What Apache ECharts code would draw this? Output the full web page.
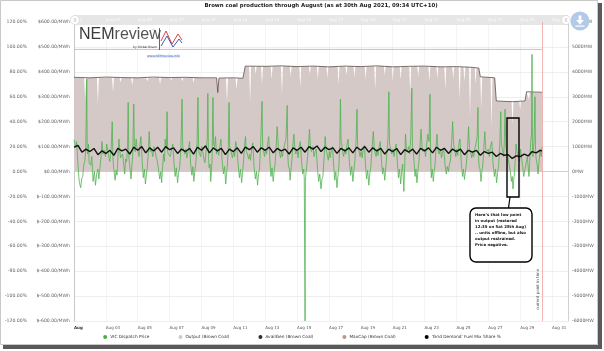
<!DOCTYPE html>
<html>
<head>
<meta charset="utf-8">
<script src="https://cdn.jsdelivr.net/npm/echarts@6/dist/echarts.min.js"></script>
<style>
  html, body { margin: 0; padding: 0; background: #fff; }
  #chart { width: 604px; height: 351px; }
</style>
</head>
<body>
<div id="chart"></div>
<script>
// x = days since 1 Aug 2021 00:00
const dayTicks = [0, 2, 4, 6, 8, 10, 12, 14, 16, 18, 20, 22, 24, 26, 28, 30];
const nowDay = 29.38; // "current point in time"

// VIC dispatch price, $/MWh
const vicPrice = [
  [0.00,128],[0.06,110],[0.10,95],[0.16,120],[0.22,60],[0.30,-20],[0.34,-45],[0.42,-65],[0.48,-30],[0.55,-20],[0.62,30],[0.68,40],[0.74,90],[0.80,370],[0.83,80],[0.86,70],[0.91,110],[0.95,35],
  [1.05,25],[1.12,60],[1.20,-40],[1.28,0],[1.35,-55],[1.42,-10],[1.50,10],[1.56,-30],[1.62,-30],[1.70,60],[1.75,120],[1.82,70],[1.88,85],[1.98,60],
  [2.05,110],[2.10,95],[2.18,60],[2.25,40],[2.33,90],[2.40,200],[2.44,60],[2.48,20],[2.58,-35],[2.64,5],[2.70,-15],[2.76,60],[2.82,130],[2.88,80],[2.92,55],
  [3.05,70],[3.12,30],[3.18,-10],[3.24,50],[3.30,40],[3.36,90],[3.40,277],[3.44,60],[3.48,35],[3.58,-30],[3.63,20],[3.68,60],[3.75,270],[3.79,90],[3.84,80],[3.90,130],[3.95,100],
  [4.02,80],[4.08,60],[4.14,110],[4.20,140],[4.28,40],[4.35,-25],[4.42,10],[4.48,-50],[4.55,-10],[4.60,20],[4.66,70],[4.72,160],[4.78,80],[4.85,90],[4.95,60],
  [5.02,100],[5.08,85],[5.15,60],[5.22,45],[5.30,10],[5.38,-30],[5.45,0],[5.50,-45],[5.56,20],[5.62,70],[5.68,40],[5.72,130],[5.80,90],[5.84,240],[5.88,80],[5.92,70],
  [6.05,60],[6.12,90],[6.20,110],[6.28,30],[6.35,-20],[6.42,15],[6.50,-45],[6.56,-5],[6.62,10],[6.70,80],[6.78,290],[6.82,100],[6.86,95],[6.96,70],
  [7.02,90],[7.08,55],[7.16,80],[7.25,120],[7.32,30],[7.40,-15],[7.46,20],[7.52,-40],[7.58,0],[7.64,30],[7.72,110],[7.78,297],[7.82,90],[7.86,75],[7.95,60],
  [8.02,100],[8.08,80],[8.15,50],[8.22,35],[8.30,90],[8.36,130],[8.40,313],[8.44,60],[8.48,15],[8.54,30],[8.58,-40],[8.62,0],[8.66,40],[8.72,297],[8.76,110],[8.82,100],[8.88,140],[8.94,70],
  [9.02,90],[9.08,65],[9.15,100],[9.22,130],[9.30,40],[9.38,-10],[9.45,20],[9.52,-50],[9.57,-10],[9.62,20],[9.68,90],[9.73,277],[9.77,100],[9.82,90],[9.94,55],
  [10.02,80],[10.08,60],[10.15,120],[10.22,95],[10.30,30],[10.38,-25],[10.45,10],[10.52,-45],[10.58,0],[10.64,40],[10.70,100],[10.76,140],[10.82,80],[10.88,70],[10.96,50],
  [11.02,70],[11.08,45],[11.15,90],[11.22,115],[11.30,20],[11.38,-30],[11.45,0],[11.52,-55],[11.58,-10],[11.64,10],[11.72,120],[11.80,281],[11.84,100],[11.88,95],[11.96,60],
  [12.02,90],[12.08,70],[12.15,110],[12.22,140],[12.30,40],[12.36,-20],[12.43,15],[12.50,-40],[12.56,0],[12.62,30],[12.68,90],[12.75,180],[12.82,100],[12.88,80],[12.96,55],
  [13.02,80],[13.08,60],[13.15,90],[13.22,110],[13.30,130],[13.38,265],[13.42,60],[13.46,20],[13.52,10],[13.56,-35],[13.62,10],[13.68,50],[13.74,110],[13.80,150],[13.86,90],[13.92,70],
  [14.00,90],[14.06,55],[14.13,100],[14.20,120],[14.28,40],[14.35,-10],[14.42,10],[14.45,-30],[14.50,-600],[14.52,-40],[14.54,-20],[14.60,20],[14.66,60],[14.72,110],[14.78,170],[14.84,90],[14.90,80],
  [15.00,100],[15.06,60],[15.13,80],[15.20,90],[15.28,10],[15.35,-40],[15.42,-10],[15.50,-70],[15.56,-30],[15.62,-20],[15.70,60],[15.76,140],[15.82,90],[15.88,70],[15.96,45],
  [16.02,80],[16.08,55],[16.15,90],[16.22,100],[16.30,20],[16.36,-35],[16.43,0],[16.50,-65],[16.56,-20],[16.62,20],[16.68,110],[16.72,290],[16.76,120],[16.80,110],[16.86,80],[16.92,60],
  [17.00,90],[17.06,70],[17.13,110],[17.20,130],[17.28,40],[17.36,-15],[17.43,20],[17.50,-40],[17.56,0],[17.62,40],[17.70,120],[17.76,250],[17.80,100],[17.86,90],[17.95,60],
  [18.02,80],[18.08,55],[18.15,90],[18.22,105],[18.30,20],[18.36,-30],[18.43,5],[18.50,-55],[18.56,-10],[18.62,15],[18.70,90],[18.78,160],[18.84,100],[18.88,80],[18.96,60],
  [19.02,90],[19.08,65],[19.15,100],[19.22,120],[19.30,40],[19.36,-10],[19.43,15],[19.50,-35],[19.56,10],[19.62,60],[19.70,130],[19.76,320],[19.80,110],[19.84,100],[19.94,70],
  [20.02,90],[20.08,60],[20.15,90],[20.22,110],[20.30,30],[20.36,-25],[20.43,10],[20.50,-50],[20.56,0],[20.62,30],[20.70,-80],[20.76,40],[20.80,150],[20.86,90],[20.92,80],
  [21.00,100],[21.06,70],[21.13,130],[21.20,335],[21.24,100],[21.28,90],[21.34,40],[21.40,-20],[21.46,10],[21.52,-45],[21.58,0],[21.64,40],[21.72,110],[21.78,170],[21.84,100],[21.90,80],
  [22.00,90],[22.06,60],[22.13,110],[22.20,150],[22.28,120],[22.34,310],[22.38,60],[22.42,-25],[22.48,10],[22.55,-40],[22.60,0],[22.66,30],[22.72,100],[22.78,150],[22.84,90],[22.90,70],
  [23.00,90],[23.06,55],[23.13,80],[23.20,95],[23.28,30],[23.36,-10],[23.43,20],[23.50,0],[23.56,30],[23.62,40],[23.70,120],[23.76,200],[23.82,110],[23.88,90],[23.96,60],
  [24.02,90],[24.08,65],[24.15,110],[24.22,130],[24.30,40],[24.38,-20],[24.44,10],[24.50,-32],[24.56,0],[24.62,30],[24.70,100],[24.76,180],[24.82,90],[24.88,80],[24.96,55],
  [25.02,80],[25.08,60],[25.15,90],[25.22,110],[25.30,140],[25.35,257],[25.39,60],[25.42,20],[25.48,10],[25.54,-40],[25.60,0],[25.66,30],[25.72,100],[25.78,160],[25.84,90],[25.90,80],
  [26.00,90],[26.06,60],[26.13,100],[26.22,120],[26.30,30],[26.38,-20],[26.45,10],[26.52,-45],[26.58,-5],[26.64,20],[26.72,110],[26.78,240],[26.82,110],[26.88,90],[26.96,60],
  [27.00,110],[27.05,250],[27.10,100],[27.15,80],[27.22,60],[27.30,30],[27.38,0],[27.45,-40],[27.50,-20],[27.55,-70],[27.58,-40],[27.62,-20],[27.68,40],[27.74,110],[27.80,80],[27.86,60],[27.96,40],
  [28.02,90],[28.08,60],[28.15,20],[28.22,-20],[28.30,10],[28.36,30],[28.45,60],[28.55,-20],[28.60,40],[28.66,120],[28.71,150],[28.74,470],[28.77,100],[28.80,60],[28.87,120],[28.93,300],[28.96,90],[29.00,50],
  [29.06,30],[29.12,-10],[29.18,40],[29.25,90],[29.32,60],[29.38,100]
];

// Output (Brown Coal), MW
const outputMW = [
  [0,3760],[0.64,3750],[0.70,2890],[0.76,3750],[1.44,3750],[1.50,2690],[1.56,3750],[2.39,3760],[2.45,3170],[2.51,3760],
  [2.86,3750],[2.92,3570],[2.98,3750],[3.59,3750],[3.65,3450],[3.71,3750],[4.54,3745],[4.60,3610],[4.66,3745],
  [5.34,3770],[5.40,3480],[5.46,3770],[6.04,3750],[6.10,3650],[6.16,3750],[6.74,3755],[6.80,3610],[6.86,3755],
  [7.44,3765],[7.50,3550],[7.56,3765],[8.14,3745],[8.20,3690],[8.26,3745],
  [8.95,3745],[9.02,3150],[9.10,3735],[9.54,3740],[9.60,2770],[9.66,3740],[10.14,3745],[10.20,3290],[10.26,3745],
  [10.60,3725],[10.75,4210],[10.99,4210],[11.05,2770],[11.11,4210],[11.34,4210],[11.40,3900],[11.46,4210],
  [11.74,4210],[11.80,3490],[11.86,4210],[12.34,4215],[12.40,3700],[12.46,4215],[12.99,4225],[13.05,3090],[13.11,4225],
  [13.54,4230],[13.60,3800],[13.66,4230],[14.14,4205],[14.20,3370],[14.26,4205],[14.74,4215],[14.80,3900],[14.86,4215],
  [15.24,4215],[15.30,3690],[15.36,4215],[15.84,4205],[15.90,3750],[15.96,4205],[16.54,4200],[16.60,3490],[16.66,4200],
  [17.04,4215],[17.10,3850],[17.16,4215],[17.54,4220],[17.60,3780],[17.66,4220],[18.24,4205],[18.30,3700],[18.36,4205],
  [18.84,4225],[18.90,3290],[18.96,4225],[19.44,4230],[19.50,3850],[19.56,4230],[19.94,4205],[20.00,3600],[20.06,4200],
  [20.44,4195],[20.50,3690],[20.56,4195],[21.04,4205],[21.10,3090],[21.16,4205],[21.54,4210],[21.60,3800],[21.66,4210],
  [22.24,4215],[22.30,3610],[22.36,4215],[22.74,4210],[22.80,3700],[22.86,4210],[23.24,4195],[23.30,3290],[23.36,4195],
  [23.74,4190],[23.80,3700],[23.86,4190],[24.14,4195],[24.20,2890],[24.26,4195],[24.44,4190],[24.50,3600],[24.56,4190],
  [24.79,4175],[24.85,2190],[24.91,4175],[25.14,4170],[25.20,3500],[25.26,4165],[25.40,4135],
  [25.50,3785],[25.55,2490],[25.61,3780],[26.14,3750],[26.20,1760],[26.26,3750],[26.40,3745],[26.50,2815],
  [27.46,2790],[27.52,1880],[27.58,2790],[27.94,2800],[28.00,2500],[28.06,2800],[28.30,2815],[28.40,3185],
  [28.49,3185],[28.55,2890],[28.61,3180],[29.38,3165]
];

// AvailGen (Brown Coal), MW
const availMW = [
  [0,3780],[1.0,3760],[2.0,3790],[3.0,3770],[4.0,3760],[5.0,3790],[6.0,3770],[7.0,3780],[8.0,3760],
  [8.95,3760],[9.02,3170],[9.10,3750],[10.0,3760],[10.6,3740],[10.75,4230],[12.0,4220],[13.0,4240],
  [14.0,4210],[15.0,4230],[16.0,4200],[17.0,4230],[18.0,4210],[19.0,4240],[20.0,4200],[21.0,4220],
  [22.0,4230],[23.0,4200],[24.0,4210],[25.0,4180],[25.4,4150],[25.5,3800],[26.4,3760],[26.5,2830],
  [27.5,2800],[28.3,2830],[28.4,3200],[29.38,3180]
];

// MaxCap (Brown Coal), MW
const maxCapMW = [[0,4900],[29.38,4900]];

// 'Grid Demand' fuel mix share, %
const sharePct = [
  [0.00,19.5],[0.25,21.0],[0.5,15.5],[0.75,18.0],[1.00,16.0],[1.25,18.5],[1.5,13.5],[1.75,16.5],
  [2.00,14.5],[2.25,17.0],[2.5,13.0],[2.75,18.5],[3.00,16.5],[3.25,18.0],[3.5,14.0],[3.75,19.5],
  [4.00,17.0],[4.25,20.0],[4.5,15.0],[4.75,19.0],[5.00,16.5],[5.25,19.5],[5.5,15.5],[5.75,20.0],
  [6.00,17.5],[6.25,19.0],[6.5,14.5],[6.75,18.0],[7.00,16.0],[7.25,18.5],[7.5,14.0],[7.75,19.5],
  [8.00,17.0],[8.25,20.5],[8.5,15.0],[8.75,19.0],[9.00,16.5],[9.25,18.5],[9.5,13.5],[9.75,18.0],
  [10.00,16.0],[10.25,19.0],[10.5,14.5],[10.75,19.5],[11.00,17.5],[11.25,20.0],[11.5,15.5],[11.75,19.0],
  [12.00,17.0],[12.25,19.5],[12.5,15.0],[12.75,18.5],[13.00,16.5],[13.25,18.0],[13.5,14.0],[13.75,19.0],
  [14.00,17.0],[14.25,19.5],[14.5,15.5],[14.75,20.0],[15.00,18.0],[15.25,20.5],[15.5,16.0],[15.75,19.5],
  [16.00,17.5],[16.25,19.0],[16.5,14.5],[16.75,18.5],[17.00,16.5],[17.25,19.0],[17.5,15.0],[17.75,19.5],
  [18.00,17.0],[18.25,20.0],[18.5,15.5],[18.75,19.0],[19.00,16.5],[19.25,18.5],[19.5,14.0],[19.75,18.0],
  [20.00,16.0],[20.25,18.5],[20.5,13.5],[20.75,17.5],[21.00,15.5],[21.25,18.0],[21.5,14.0],[21.75,18.5],
  [22.00,16.5],[22.25,19.0],[22.5,15.0],[22.75,19.5],[23.00,17.0],[23.25,18.5],[23.5,14.5],[23.75,18.0],
  [24.00,16.0],[24.25,18.0],[24.5,13.5],[24.75,17.0],[25.00,15.5],[25.25,17.0],[25.5,13.0],[25.75,16.0],
  [26.00,14.5],[26.25,15.5],[26.5,12.0],[26.75,14.5],[27.00,13.0],[27.25,13.5],[27.5,10.5],[27.75,12.5],
  [28.00,12.0],[28.25,14.0],[28.5,12.5],[28.75,16.0],[29.00,15.0],[29.25,17.0],[29.38,16.5]
];

const seriesNames = ['VIC Dispatch Price', 'Output (Brown Coal)', 'AvailGen (Brown Coal)', 'MaxCap (Brown Coal)', "'Grid Demand' Fuel Mix Share %"];
const titleText = 'Brown coal production through August (as at 30th Aug 2021, 09:34 UTC+10)';
const noteLines = ['Here\u2019s that low point', 'in output (metered', '12:35 on Sat 28th Aug)', '.. units offline, but also', 'output restrained.', 'Price negative.'];

const FONT = 'DejaVu Sans';
const pad2 = (n) => String(n).padStart(2, '0');
const dayLabel = (v) => {
  if (v > 30.5) return '';
  if (v === 0) return '{b|Aug}';
  return 'Aug ' + pad2(v + 1);
};

const chart = echarts.init(document.getElementById('chart'), null, { renderer: 'canvas' });

const option = {
  animation: false,
  textStyle: { fontFamily: FONT },
  grid: { left: 74, right: 36, top: 22, bottom: 30, containLabel: false },
  legend: {
    bottom: 7,
    left: 'center',
    icon: 'circle',
    itemWidth: 4,
    itemHeight: 4,
    itemGap: 29,
    textStyle: { fontSize: 4.3, color: '#333', fontFamily: FONT, padding: [0, 0, 0, -2] },
    data: seriesNames
  },
  xAxis: [
    {
      type: 'value', min: 0, max: 31, interval: 2,
      axisLine: { show: true, lineStyle: { color: '#c8c8c8', width: 0.8 } },
      axisTick: { show: false },
      splitLine: { show: true, lineStyle: { color: '#ededed', width: 0.6 } },
      axisLabel: {
        formatter: dayLabel, align: 'left', margin: 4.5, fontSize: 4, color: '#555', fontFamily: FONT,
        showMaxLabel: false,
        rich: { b: { fontWeight: 'bold', fontSize: 4, color: '#333', fontFamily: FONT } }
      }
    },
    {
      type: 'value', position: 'top', min: 0, max: 31, interval: 2, z: 10,
      axisLine: { show: false }, axisTick: { show: false }, splitLine: { show: false },
      axisLabel: {
        formatter: (v) => (v > 30.5 ? '' : (v === 0 ? 'Aug' : 'Aug ' + pad2(v + 1))),
        align: 'left', margin: 0.5, fontSize: 4, color: '#fbfbfb', fontFamily: FONT, showMaxLabel: false
      }
    }
  ],
  yAxis: [
    {
      type: 'value', min: -600, max: 600, interval: 100, position: 'left',
      axisLine: { show: true, lineStyle: { color: '#c8c8c8', width: 0.8 } },
      axisTick: { show: false },
      splitLine: { show: true, lineStyle: { color: '#e6e6e6', width: 0.7 } },
      axisLabel: { formatter: (v) => '$' + v.toFixed(2) + '/MWh', fontSize: 4.6, color: '#666', margin: 4, fontFamily: FONT }
    },
    {
      type: 'value', min: -120, max: 120, interval: 20, position: 'left', offset: 42,
      axisLine: { show: true, lineStyle: { color: '#c8c8c8', width: 0.8 } },
      axisTick: { show: false },
      splitLine: { show: false },
      axisLabel: { formatter: (v) => v.toFixed(2) + '%', fontSize: 4.6, color: '#666', margin: 5, fontFamily: FONT }
    },
    {
      type: 'value', min: -6000, max: 6000, interval: 1000, position: 'right',
      axisLine: { show: true, lineStyle: { color: '#c8c8c8', width: 0.8 } },
      axisTick: { show: false },
      splitLine: { show: false },
      axisLabel: { formatter: (v) => v + 'MW', fontSize: 4.6, color: '#666', margin: 4, fontFamily: FONT }
    }
  ],
  series: [
    {
      name: seriesNames[0], type: 'line', yAxisIndex: 0, data: vicPrice, z: 3,
      symbol: 'none', color: '#4aad4a', lineStyle: { width: 0.8, color: '#4fb34f' },
      markLine: {
        silent: true, symbol: 'none',
        lineStyle: { color: '#f1a2a2', width: 0.8, type: 'solid' },
        label: { show: true, formatter: 'current point in time', position: 'insideStartTop', fontSize: 4, color: '#555', distance: [11, 2] },
        data: [{ xAxis: nowDay }]
      }
    },
    {
      name: seriesNames[1], type: 'line', yAxisIndex: 2, data: outputMW, z: 1,
      symbol: 'none', color: '#d4c9c6', lineStyle: { width: 0 },
      areaStyle: { color: '#d4c9c6', opacity: 1 }
    },
    {
      name: seriesNames[2], type: 'line', yAxisIndex: 2, data: availMW, z: 2,
      symbol: 'none', color: '#3b2a2a', lineStyle: { width: 0.8, color: '#5a4a48' }
    },
    {
      name: seriesNames[3], type: 'line', yAxisIndex: 2, data: maxCapMW, z: 5,
      symbol: 'none', color: '#c4918a', lineStyle: { width: 0.8, color: '#dba29c', opacity: 1 }
    },
    {
      name: seriesNames[4], type: 'line', yAxisIndex: 1, data: sharePct, z: 4,
      symbol: 'none', color: '#000', lineStyle: { width: 1.4, color: '#111' }
    }
  ],
  graphic: [
    // outer frame with drop shadow
    { type: 'rect', z: 0, shape: { x: 0.5, y: 0.5, width: 597, height: 344 }, style: { fill: 'none', stroke: '#c9c9c9', lineWidth: 1 } },
    { type: 'rect', z: 0, shape: { x: 598, y: 3, width: 4, height: 346 }, style: { fill: '#5a5a5a' } },
    { type: 'rect', z: 0, shape: { x: 3, y: 345, width: 599, height: 4 }, style: { fill: '#5a5a5a' } },
    // title
    { type: 'text', x: 321, y: 3, style: { text: titleText, fontFamily: FONT, fontSize: 5.4, fontWeight: 'bold', fill: '#222', align: 'center', verticalAlign: 'top' } },
    // top navigator band
    { type: 'rect', z: 1, shape: { x: 74, y: 15, width: 494, height: 10 }, style: { fill: '#e6e6e6' } },
    { type: 'circle', z: 20, shape: { cx: 75, cy: 20, r: 4.5 }, style: { fill: '#fff', stroke: '#cfcfcf', lineWidth: 0.6 } },
    { type: 'line', z: 21, shape: { x1: 74.3, y1: 18, x2: 74.3, y2: 22 }, style: { stroke: '#999', lineWidth: 0.4 } },
    { type: 'line', z: 21, shape: { x1: 75.7, y1: 18, x2: 75.7, y2: 22 }, style: { stroke: '#999', lineWidth: 0.4 } },
    { type: 'circle', z: 20, shape: { cx: 566, cy: 20, r: 4.5 }, style: { fill: '#fff', stroke: '#cfcfcf', lineWidth: 0.6 } },
    { type: 'line', z: 21, shape: { x1: 565.3, y1: 18, x2: 565.3, y2: 22 }, style: { stroke: '#999', lineWidth: 0.4 } },
    { type: 'line', z: 21, shape: { x1: 566.7, y1: 18, x2: 566.7, y2: 22 }, style: { stroke: '#999', lineWidth: 0.4 } },
    // download button
    { type: 'circle', z: 30, shape: { cx: 580, cy: 21, r: 9.5 }, style: { fill: '#b3c9e8' } },
    { type: 'polygon', z: 31, shape: { points: [[578.6, 15.5], [581.4, 15.5], [581.4, 20], [584, 20], [580, 24.5], [576, 20], [578.6, 20]] }, style: { fill: '#fff' } },
    { type: 'rect', z: 31, shape: { x: 575.5, y: 25.5, width: 9, height: 1.2 }, style: { fill: '#fff' } },
    // NEMreview logo
    { type: 'text', z: 20, x: 79, y: 27, style: { text: '{a|NEM}{c|review}', fontFamily: 'Liberation Sans', verticalAlign: 'top',
        rich: { a: { fontSize: 16, fill: '#3a3a3a', fontFamily: 'Liberation Sans' }, c: { fontSize: 16, fill: '#555', fontFamily: 'Liberation Sans' } } } },
    { type: 'text', z: 20, x: 152, y: 29, style: { text: '\u2122', fontSize: 3.5, fill: '#555', fontFamily: FONT } },
    { type: 'text', z: 20, x: 133, y: 46, style: { text: 'by Global-Roam', fontSize: 3, fill: '#333', fontFamily: FONT } },
    { type: 'line', z: 20, shape: { x1: 159.5, y1: 28, x2: 159.5, y2: 50 }, style: { stroke: '#2a3f7a', lineWidth: 0.8 } },
    { type: 'polyline', z: 20, shape: { points: [[161, 41], [166, 31], [172, 44], [178, 34], [182, 40]] }, style: { stroke: '#d83030', lineWidth: 0.9, fill: 'none' } },
    { type: 'polyline', z: 20, shape: { points: [[161, 46], [167, 36], [173, 47], [179, 39], [182, 43]] }, style: { stroke: '#2a4aa8', lineWidth: 0.9, fill: 'none' } },
    { type: 'text', z: 20, x: 147, y: 55, style: { text: 'www.NEMreview.info', fontSize: 3.2, fill: '#4a6fc0', fontFamily: FONT, backgroundColor: '#e4ecf8' } },
    // annotation: low point marker and callout
    { type: 'rect', z: 40, shape: { x: 507, y: 118, width: 12, height: 79 }, style: { fill: 'none', stroke: '#000', lineWidth: 1.4 } },
    { type: 'line', z: 40, shape: { x1: 510, y1: 197, x2: 508.5, y2: 208 }, style: { stroke: '#000', lineWidth: 1.2 } },
    { type: 'rect', z: 40, shape: { x: 470, y: 208, width: 62, height: 54, r: 6 }, style: { fill: '#fff', stroke: '#000', lineWidth: 1.4 } },
    { type: 'text', z: 41, x: 475, y: 212, style: { text: noteLines.join('\n'), fontSize: 3.9, fontWeight: 'bold', lineHeight: 6, fill: '#111', fontFamily: FONT } }
  ]
};

chart.setOption(option);
</script>
</body>
</html>
